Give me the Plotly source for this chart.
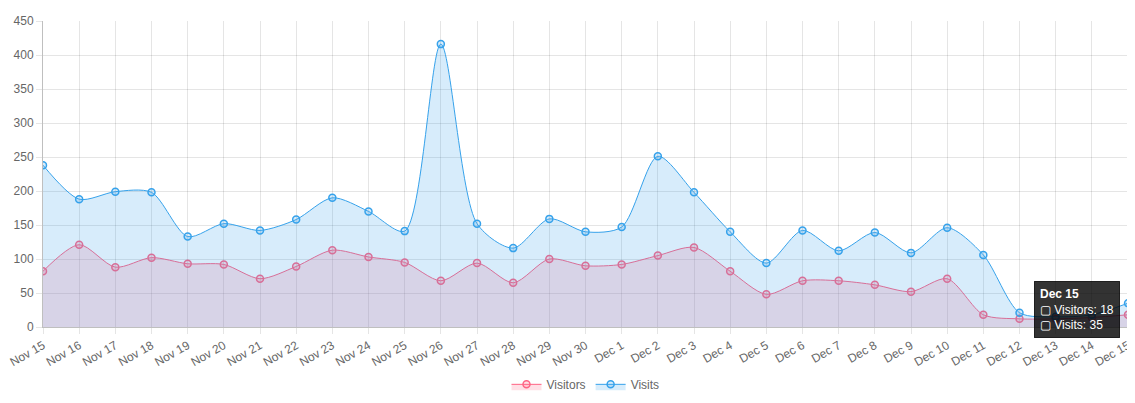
import plotly.graph_objects as go

days = ["Nov 15", "Nov 16", "Nov 17", "Nov 18", "Nov 19", "Nov 20", "Nov 21", "Nov 22",
        "Nov 23", "Nov 24", "Nov 25", "Nov 26", "Nov 27", "Nov 28", "Nov 29", "Nov 30",
        "Dec 1", "Dec 2", "Dec 3", "Dec 4", "Dec 5", "Dec 6", "Dec 7", "Dec 8",
        "Dec 9", "Dec 10", "Dec 11", "Dec 12", "Dec 13", "Dec 14", "Dec 15"]
visitors = [82, 121, 88, 102, 93, 92, 71, 89, 113, 103, 95, 68, 94, 65, 100, 90,
            92, 105, 117, 82, 48, 68, 68, 62, 52, 71, 18, 12, 12, 14, 18]
visits = [238, 188, 199, 198, 133, 152, 142, 158, 190, 170, 141, 416, 152, 116, 159, 140,
          147, 251, 198, 140, 94, 142, 112, 139, 109, 146, 106, 21, 15, 18, 35]

red = "rgb(255,99,132)"
blue = "rgb(54,162,235)"

fig = go.Figure()
fig.add_trace(go.Scatter(
    x=days, y=visitors, name="Visitors", mode="lines+markers",
    line=dict(color=red, width=1, shape="spline", smoothing=0.8),
    marker=dict(size=7, color="rgba(255,99,132,0.2)", line=dict(color=red, width=1.5)),
    fill="tozeroy", fillcolor="rgba(255,99,132,0.2)"))
fig.add_trace(go.Scatter(
    x=days, y=visits, name="Visits", mode="lines+markers",
    line=dict(color=blue, width=1, shape="spline", smoothing=0.8),
    marker=dict(size=7, color="rgba(54,162,235,0.2)", line=dict(color=blue, width=1.5)),
    fill="tozeroy", fillcolor="rgba(54,162,235,0.2)"))

# static tooltip like the reference
fig.add_annotation(
    x="Dec 15", y=35, xref="x", yref="y",
    text="<b>Dec 15</b><br>▢ Visitors: 18<br>▢ Visits: 35",
    showarrow=False, xanchor="right", xshift=-8, yshift=-6, align="left",
    bgcolor="rgba(0,0,0,0.8)", bordercolor="rgba(0,0,0,0.8)", borderpad=5,
    font=dict(color="white", size=12, family="Arial"))

fig.update_layout(
    width=1135, height=403,
    margin=dict(l=35, r=15, t=13, b=81),
    plot_bgcolor="white", paper_bgcolor="white",
    font=dict(family="Arial, Liberation Sans", size=12, color="#666"),
    showlegend=True,
    legend=dict(orientation="h", x=0.5, xanchor="center", y=-0.14, yanchor="top",
                font=dict(size=12, color="#666")),
    xaxis=dict(showgrid=True, gridcolor="rgba(0,0,0,0.1)", tickangle=-30,
               range=[0, 30], showline=True, linecolor="rgba(0,0,0,0.25)",
               ticks="outside", tickcolor="rgba(0,0,0,0.1)", ticklen=6,
               automargin=False),
    yaxis=dict(showgrid=True, gridcolor="rgba(0,0,0,0.1)", range=[0, 450], dtick=50,
               showline=True, linecolor="rgba(0,0,0,0.25)", zeroline=False,
               ticks="outside", tickcolor="rgba(0,0,0,0.1)", ticklen=6,
               automargin=False),
)

fig.write_html("out.html")
